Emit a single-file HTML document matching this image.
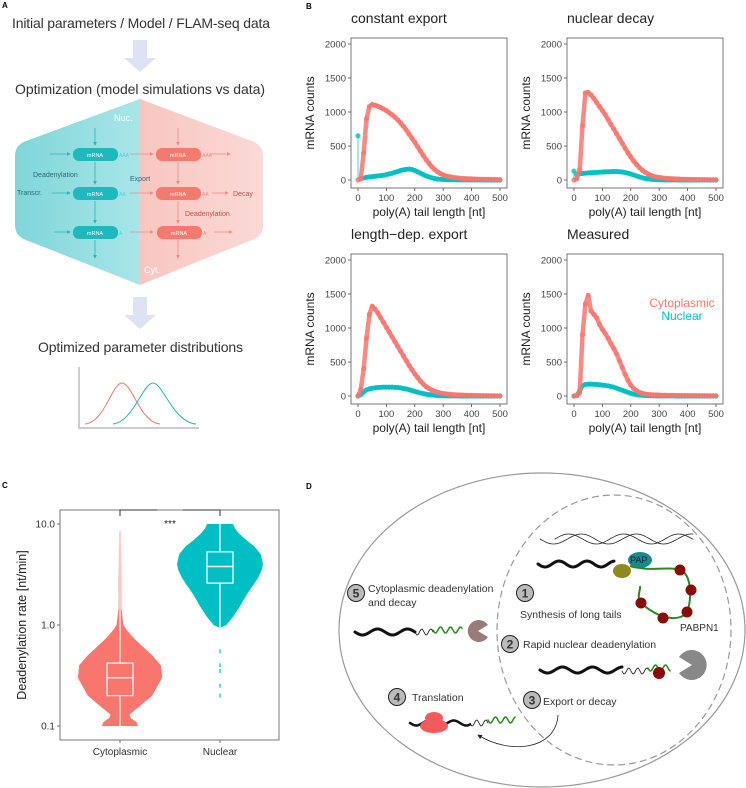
<!DOCTYPE html>
<html><head><meta charset="utf-8">
<style>
body{margin:0;background:#fff;}
svg{display:block;font-family:"Liberation Sans",sans-serif;}
</style></head>
<body>
<svg id="fig" width="746" height="788" viewBox="0 0 746 788" xmlns="http://www.w3.org/2000/svg">
<defs>
<linearGradient id="tealG" x1="0" x2="1"><stop offset="0" stop-color="#7fd6d9"/><stop offset="1" stop-color="#a8e6e8"/></linearGradient>
<linearGradient id="pinkG" x1="0" x2="1"><stop offset="0" stop-color="#f8c6c1"/><stop offset="1" stop-color="#fbd9d5"/></linearGradient>
<marker id="ah" markerWidth="6" markerHeight="6" refX="5" refY="3" orient="auto"><path d="M0,0 L6,3 L0,6 z" fill="#222"/></marker>
<marker id="ahT" markerWidth="5" markerHeight="5" refX="4" refY="2.5" orient="auto"><path d="M0,0 L5,2.5 L0,5 z" fill="#2bb5b9"/></marker>
<marker id="ahP" markerWidth="5" markerHeight="5" refX="4" refY="2.5" orient="auto"><path d="M0,0 L5,2.5 L0,5 z" fill="#f08a80"/></marker>
</defs>

<!-- PANEL A -->
<g>
<text x="2" y="8" font-size="8" font-weight="bold">A</text>
<text x="12" y="28" font-size="14" fill="#333" textLength="258">Initial parameters / Model / FLAM-seq data</text>
<path d="M133,40 h14 v18 h9 l-16,14 l-16,-14 h9 z" fill="#dde3f4"/>
<text x="15" y="94" font-size="14" fill="#333" textLength="250">Optimization (model simulations vs data)</text>
<path d="M140,99 L26,141 Q15,145 15,156 L15,225 Q15,236 26,240 L140,285 Z" fill="url(#tealG)"/>
<path d="M140,99 L252,141 Q263,145 263,156 L263,225 Q263,236 252,240 L140,285 Z" fill="url(#pinkG)"/>
<text x="114" y="121" font-size="9" fill="#fff">Nuc.</text>
<text x="144" y="273" font-size="9" fill="#fff">Cyt.</text>
<g font-size="5.5" fill="#fff" text-anchor="middle">
<rect x="73" y="148" width="45" height="13" rx="6" fill="#1fb8bc"/><text x="95" y="157">mRNA</text>
<rect x="73" y="187" width="45" height="13" rx="6" fill="#1fb8bc"/><text x="95" y="196">mRNA</text>
<rect x="73" y="226" width="45" height="13" rx="6" fill="#1fb8bc"/><text x="95" y="235">mRNA</text>
<rect x="156" y="148" width="45" height="13" rx="6" fill="#f47a70"/><text x="178" y="157">mRNA</text>
<rect x="156" y="187" width="45" height="13" rx="6" fill="#f47a70"/><text x="178" y="196">mRNA</text>
<rect x="157" y="226" width="45" height="13" rx="6" fill="#f47a70"/><text x="179" y="235">mRNA</text>
</g>
<g font-size="5" fill="#5cc">
<text x="119" y="157">AAA</text><text x="119" y="196">AA</text><text x="119" y="235">A</text>
</g>
<g font-size="5" fill="#f08a80">
<text x="202" y="157">AAA</text><text x="202" y="196">AA</text><text x="203" y="235">A</text>
</g>
<g stroke="#2bb5b9" stroke-width="0.8" marker-end="url(#ahT)">
<line x1="95" y1="128" x2="95" y2="145"/><line x1="95" y1="162" x2="95" y2="184"/><line x1="95" y1="201" x2="95" y2="223"/><line x1="95" y1="240" x2="95" y2="258"/>
<line x1="50" y1="154" x2="70" y2="154"/><line x1="52" y1="193" x2="70" y2="193"/><line x1="54" y1="232" x2="70" y2="232"/>
</g>
<g stroke="#f08a80" stroke-width="0.8" marker-end="url(#ahP)">
<line x1="178" y1="128" x2="178" y2="145"/><line x1="178" y1="162" x2="178" y2="184"/><line x1="178" y1="201" x2="178" y2="223"/><line x1="178" y1="240" x2="178" y2="258"/>
<line x1="130" y1="154" x2="153" y2="154"/><line x1="130" y1="193" x2="153" y2="193"/><line x1="130" y1="232" x2="153" y2="232"/>
<line x1="210" y1="154" x2="230" y2="154"/><line x1="212" y1="193" x2="228" y2="193"/><line x1="214" y1="232" x2="232" y2="232"/>
</g>
<text x="33" y="177" font-size="7" fill="#2a6a70">Deadenylation</text>
<text x="17" y="195" font-size="7" fill="#2a6a70">Transcr.</text>
<text x="130" y="181" font-size="7" fill="#2a6a70">Export</text>
<text x="233" y="196" font-size="7" fill="#c0504a">Decay</text>
<text x="185" y="216" font-size="7" fill="#c0504a">Deadenylation</text>
<path d="M133,297 h14 v18 h9 l-16,14 l-16,-14 h9 z" fill="#dde3f4"/>
<text x="38" y="352" font-size="14" fill="#333" textLength="205">Optimized parameter distributions</text>
<path d="M79,367 V428 H199" fill="none" stroke="#bbb" stroke-width="1.5"/>
<path d="M85,424 C105,422 112,383 122,383 C132,383 140,422 160,424" fill="none" stroke="#e8786e" stroke-width="1"/>
<path d="M113,424 C133,422 143,383 153,383 C163,383 173,422 196,424" fill="none" stroke="#22b5b5" stroke-width="1"/>
</g>

<!-- PANEL B -->
<text x="306" y="9" font-size="8" font-weight="bold">B</text>
<g id="panelB"></g>

<!-- PANEL C -->
<text x="2" y="488" font-size="8" font-weight="bold">C</text>
<g id="panelC"></g>

<!-- PANEL D -->
<g>
<text x="306" y="489" font-size="8" font-weight="bold">D</text>
<ellipse cx="542" cy="630" rx="203" ry="157" fill="none" stroke="#999" stroke-width="1.2"/>
<ellipse cx="614" cy="630" rx="117" ry="135" fill="none" stroke="#999" stroke-width="1.2" stroke-dasharray="7,4"/>
<g id="waves"></g>
<ellipse cx="622" cy="571" rx="9" ry="7" fill="#8c8a1c"/>
<ellipse cx="640" cy="560" rx="12" ry="8" fill="#1a8a8e"/>
<text x="630" y="563" font-size="9" fill="#123">PAP</text>
<path d="M630,566 C650,572 670,566 680,570 C692,574 692,600 687,612 C680,622 660,620 641,603 C636,596 641,590 640,586" fill="none" stroke="#2a8a1e" stroke-width="2"/>
<g fill="#8b0a0a">
<circle cx="680" cy="570" r="5.5"/><circle cx="691" cy="590" r="5.5"/><circle cx="687" cy="612" r="5.5"/><circle cx="663" cy="618" r="5.5"/><circle cx="641" cy="603" r="5.5"/>
<circle cx="659" cy="673" r="6"/>
</g>
<text x="680" y="631" font-size="10" fill="#333">PABPN1</text>
<g font-size="10.5" fill="#333">
<circle cx="525" cy="593" r="8.5" fill="#bbb" stroke="#222"/><text x="525" y="597.5" text-anchor="middle" font-weight="bold" font-size="12">1</text>
<text x="520" y="618">Synthesis of long tails</text>
<circle cx="356" cy="593" r="8.5" fill="#bbb" stroke="#222"/><text x="356" y="597.5" text-anchor="middle" font-weight="bold" font-size="12">5</text>
<text x="368" y="592">Cytoplasmic deadenylation</text>
<text x="368" y="606">and decay</text>
<circle cx="510" cy="644" r="8.5" fill="#bbb" stroke="#222"/><text x="510" y="648.5" text-anchor="middle" font-weight="bold" font-size="12">2</text>
<text x="523" y="648">Rapid nuclear deadenylation</text>
<circle cx="532" cy="700" r="8.5" fill="#bbb" stroke="#222"/><text x="532" y="704.5" text-anchor="middle" font-weight="bold" font-size="12">3</text>
<text x="543" y="705">Export or decay</text>
<circle cx="397" cy="697" r="8.5" fill="#bbb" stroke="#222"/><text x="397" y="701.5" text-anchor="middle" font-weight="bold" font-size="12">4</text>
<text x="412" y="701">Translation</text>
</g>
<path d="M478,631 L488,625 A11,11 0 1 0 488,637 Z" fill="#9b7b77"/>
<path d="M692,665 L679,657 A15,15 0 1 1 679,673 Z" fill="#888"/>
<ellipse cx="434" cy="718" rx="9" ry="6" fill="#f25b5b"/><ellipse cx="434" cy="726" rx="14" ry="7" fill="#f25b5b"/>
<path d="M558,715 C556,750 510,755 478,735" fill="none" stroke="#222" stroke-width="0.8" marker-end="url(#ah)"/>
</g>
</svg>
<script>
const NS="http://www.w3.org/2000/svg";
function mk(tag,attrs,parent){const e=document.createElementNS(NS,tag);for(const k in attrs)e.setAttribute(k,attrs[k]);parent.appendChild(e);return e;}
const RED="#F8766D",TEAL="#00BFC4";

// ---------- Panel B data (values every 10 nt) ----------
const tailLength=[0,10,20,30,40,50,60,70,80,90,100,110,120,130,140,150,160,170,180,190,200,210,220,230,240,250,260,270,280,290,300,310,320,330,340,350,360,370,380,390,400,410,420,430,440,450,460,470,480,490,500];
const constCyto=[0,20,400,900,1080,1110,1100,1085,1065,1045,1020,990,960,925,885,840,790,735,675,615,555,490,425,360,300,245,195,155,120,95,75,60,50,42,36,31,27,24,21,19,17,15,13,12,11,10,9,8,7,6,5];
const constNuc=[650,20,30,40,45,50,55,60,65,70,80,90,100,115,125,140,150,158,160,155,140,120,100,80,60,45,32,22,15,10,7,5,4,3,3,2,2,2,1,1,1,1,1,1,0,0,0,0,0,0,0];
const decayCyto=[0,20,150,800,1280,1290,1250,1200,1140,1080,1020,960,890,820,750,680,610,540,470,400,340,280,230,185,145,115,90,70,55,45,38,32,27,23,20,18,16,14,12,11,10,9,8,7,6,6,5,5,4,4,4];
const decayNuc=[130,80,90,95,100,105,108,110,112,115,118,120,122,124,125,125,122,118,110,100,88,74,60,46,34,24,16,11,7,5,3,2,2,1,1,1,1,0,0,0,0,0,0,0,0,0,0,0,0,0,0];
const lenCyto=[0,100,400,850,1200,1320,1280,1220,1150,1080,1010,940,870,800,730,660,590,520,450,385,325,270,220,175,140,110,88,70,56,45,37,31,26,22,19,17,15,13,11,10,9,8,7,6,6,5,5,4,4,3,3];
const lenNuc=[0,20,60,90,105,115,120,125,128,130,130,130,130,128,125,120,112,103,92,80,68,56,45,35,27,20,14,10,7,5,3,2,2,1,1,1,0,0,0,0,0,0,0,0,0,0,0,0,0,0,0];
const measCyto=[0,5,50,900,1350,1480,1250,1200,1150,1050,980,920,850,770,700,620,520,420,320,230,160,110,80,55,40,30,25,20,18,16,14,12,11,10,9,9,8,8,7,7,6,6,6,5,5,5,5,4,4,4,4];
const measNuc=[0,10,80,150,170,175,175,172,170,165,160,155,150,140,130,115,100,85,70,55,40,28,20,14,10,7,5,4,3,2,2,1,1,1,1,1,0,0,0,0,0,0,0,0,0,0,0,0,0,0,0];
const bTicksX=[0,100,200,300,400,500];
const bTicksY=[0,500,1000,1500,2000];
const bTitles=["constant export","nuclear decay","length\u2212dep. export","Measured"];

const panels=[
 {title:bTitles[0],cyto:constCyto,nuc:constNuc,L:351,R:507,T:38,B:188,name:"constant-export",spike:true},
 {title:bTitles[1],cyto:decayCyto,nuc:decayNuc,L:567,R:723,T:38,B:188,name:"nuclear-decay",spike:true},
 {title:bTitles[2],cyto:lenCyto,nuc:lenNuc,L:351,R:507,T:254,B:404,name:"length-dep-export",spike:false},
 {title:bTitles[3],cyto:measCyto,nuc:measNuc,L:567,R:723,T:254,B:404,name:"measured",spike:false}
];
const gB=document.getElementById('panelB');
panels.forEach(p=>{
 const g=mk('g',{},gB);
 
 
 const x0=p.L+7,x1=p.R-7;
 const y0=p.T+142,y1=p.T+6;
 const sx=v=>x0+(v-0)/500*(x1-x0);
 const sy=v=>y0-(v/2000)*(y0-y1);
 const t=mk('text',{x:p.L,y:p.T-15,'font-size':14,fill:'#222'},g);t.textContent=p.title;
 
 
 bTicksY.forEach(v=>{
  mk('line',{x1:p.L-3,x2:p.L,y1:sy(v),y2:sy(v),stroke:'#333','stroke-width':0.7},g);
  const tt=mk('text',{x:p.L-5,y:sy(v)+3.5,'font-size':9.5,fill:'#444','text-anchor':'end'},g);tt.textContent=v;
 });
 bTicksX.forEach(v=>{
  mk('line',{x1:sx(v),x2:sx(v),y1:p.B,y2:p.B+3,stroke:'#333','stroke-width':0.7},g);
  const tt=mk('text',{x:sx(v),y:p.B+13,'font-size':9.5,fill:'#444','text-anchor':'middle'},g);tt.textContent=v;
 });
 const xt=mk('text',{x:(p.L+p.R)/2,y:p.B+28,'font-size':12,fill:'#222','text-anchor':'middle'},g);xt.textContent='poly(A) tail length [nt]';
 
 
 const yt=mk('text',{x:0,y:0,'font-size':12,fill:'#222','text-anchor':'middle',transform:`translate(${p.L-37},${(p.T+p.B)/2}) rotate(-90)`},g);yt.textContent='mRNA counts';
 
 
 [[p.nuc,TEAL,'nuclear',p.spike],[p.cyto,RED,'cytoplasmic',false]].forEach(([arr,col,nm,spk])=>{
  const s=mk('g',{},g);
  
  
  const start=spk?1:0;
  let d='';
  for(let i=start;i<arr.length;i++){d+=(i===start?'M':'L')+sx(tailLength[i]).toFixed(1)+','+sy(arr[i]).toFixed(1);}
  mk('path',{d:d,fill:'none',stroke:col,'stroke-width':4.5,'stroke-opacity':0.85,'stroke-linejoin':'round'},s);
  if(spk){
   mk('line',{x1:sx(tailLength[0]),x2:sx(tailLength[0]),y1:sy(0),y2:sy(arr[0]),stroke:col,'stroke-width':1,'stroke-opacity':0.7},s);
  }
  arr.forEach((v,i)=>{
   const c=mk('circle',{cx:sx(tailLength[i]),cy:sy(v),r:2.6,fill:col,'fill-opacity':0.8},s);
   
   
  });
 });
 mk('rect',{x:p.L,y:p.T,width:p.R-p.L,height:p.B-p.T,fill:'none',stroke:'#555','stroke-width':0.8},g);
});
const lg1=mk('text',{x:682,y:307,'font-size':12,fill:RED,'text-anchor':'middle'},gB);lg1.textContent='Cytoplasmic';


const lg2=mk('text',{x:682,y:320,'font-size':12,fill:TEAL,'text-anchor':'middle'},gB);lg2.textContent='Nuclear';



// ---------- Panel C data ----------
const cCategories=["Cytoplasmic","Nuclear"];
const cTicks=[0.1,1.0,10.0];
const cytoDensRate=[0.1,0.11,0.12,0.13,0.15,0.2,0.3,0.4,0.5,0.6,0.7,0.8,0.9,1.0,1.5,3,8.5];
const cytoDensWidth=[0.42,0.38,0.25,0.22,0.4,0.75,0.98,0.95,0.75,0.55,0.38,0.25,0.15,0.08,0.03,0.03,0.02];
const nucDensRate=[0.95,1.0,1.2,1.5,2.0,2.5,3.0,3.5,4.0,5.0,6.0,7.0,8.0,9.0,10.0];
const nucDensWidth=[0.04,0.15,0.3,0.45,0.62,0.78,0.9,0.97,1.0,0.95,0.8,0.6,0.45,0.35,0.3];
const cytoBox=[0.2,0.3,0.42];
const nucBox=[2.6,3.8,5.3];
const nucOutliers=[0.2,0.25,0.35,0.4,0.55];
const gC=document.getElementById('panelC');
const cL=60,cR=279,cT=510,cB=740;
const cy=v=>625-Math.log10(v)*101;
const cx=i=>120+i*100;
const maxHalf=43;
cTicks.forEach(v=>{
 mk('line',{x1:cL-3,x2:cL,y1:cy(v),y2:cy(v),stroke:'#333','stroke-width':0.7},gC);
 const t=mk('text',{x:cL-5,y:cy(v)+3.5,'font-size':10,fill:'#333','text-anchor':'end'},gC);t.textContent=v.toFixed(1);
});
cCategories.forEach((c,i)=>{
 mk('line',{x1:cx(i),x2:cx(i),y1:cB,y2:cB+3,stroke:'#333','stroke-width':0.7},gC);
 const t=mk('text',{x:cx(i),y:cB+15,'font-size':10,fill:'#333','text-anchor':'middle'},gC);t.textContent=c;
 
 
});
const cyt=mk('text',{x:0,y:0,'font-size':12.5,fill:'#222','text-anchor':'middle',transform:`translate(26,${(cT+cB)/2}) rotate(-90)`},gC);cyt.textContent='Deadenylation rate [nt/min]';


function violin(rates,widths,i,col,box,name){
 let l='',r='';
 rates.forEach((v,k)=>{l+=(k?'L':'M')+(cx(i)-widths[k]*maxHalf)+','+cy(v);});
 for(let k=rates.length-1;k>=0;k--){r+='L'+(cx(i)+widths[k]*maxHalf)+','+cy(rates[k]);}
 const pth=mk('path',{d:l+r+'Z',fill:col},gC);
 
 
 mk('line',{x1:cx(i),x2:cx(i),y1:cy(rates[0]),y2:cy(rates[rates.length-1]),stroke:'#fff','stroke-width':1.2},gC);
 const bx=mk('rect',{x:cx(i)-13,y:cy(box[2]),width:26,height:cy(box[0])-cy(box[2]),fill:col,stroke:'#fff','stroke-width':1.2},gC);
 
 
 mk('line',{x1:cx(i)-13,x2:cx(i)+13,y1:cy(box[1]),y2:cy(box[1]),stroke:'#fff','stroke-width':1.5},gC);
}
violin(cytoDensRate,cytoDensWidth,0,RED,cytoBox,'cytoplasmic');
violin(nucDensRate,nucDensWidth,1,TEAL,nucBox,'nuclear');
nucOutliers.forEach(v=>{
 const o=mk('line',{x1:cx(1),x2:cx(1),y1:cy(v)-2,y2:cy(v)+2,stroke:TEAL,'stroke-width':1.2},gC);
 
 
});
mk('rect',{x:cL,y:cT,width:cR-cL,height:cB-cT,fill:'none',stroke:'#555','stroke-width':0.8},gC);
mk('path',{d:`M${cx(0)},${cT+6} V${cT} H${cx(0)+37} M${cx(1)-37},${cT} H${cx(1)} V${cT+6}`,fill:'none',stroke:'#333','stroke-width':1},gC);
const st=mk('text',{x:170,y:527,'font-size':10,fill:'#222','text-anchor':'middle'},gC);st.textContent='***';



// ---------- Panel D waves ----------
const gW=document.getElementById('waves');
function wave(x0,x1,y,amp,per,w,col,phase){
 let d='';for(let x=x0;x<=x1;x+=1){const yy=y+amp*Math.sin((x-x0)/per*2*Math.PI+(phase||0));d+=(x===x0?'M':'L')+x+','+yy.toFixed(1);}
 mk('path',{d:d,fill:'none',stroke:col,'stroke-width':w,'stroke-linecap':'round'},gW);
}
wave(540,693,539,5,55,0.8,'#222',0);wave(555,693,539,5,55,0.8,'#222',Math.PI);
wave(538,614,564,3,28,3,'#111');
wave(355,415,632,3,30,3,'#111');wave(415,433,632,3,9,0.8,'#111');wave(433,462,630,3,10,1.5,'#2a8a1e');
wave(540,622,670,3,30,3,'#111');wave(622,648,671,3,9,0.8,'#111');wave(648,670,668,3,10,1.5,'#2a8a1e');
wave(410,470,723,2.5,25,2.5,'#111');wave(470,488,723,3,9,0.8,'#111');wave(488,515,720,3,10,1.5,'#2a8a1e');
</script>
</body></html>
